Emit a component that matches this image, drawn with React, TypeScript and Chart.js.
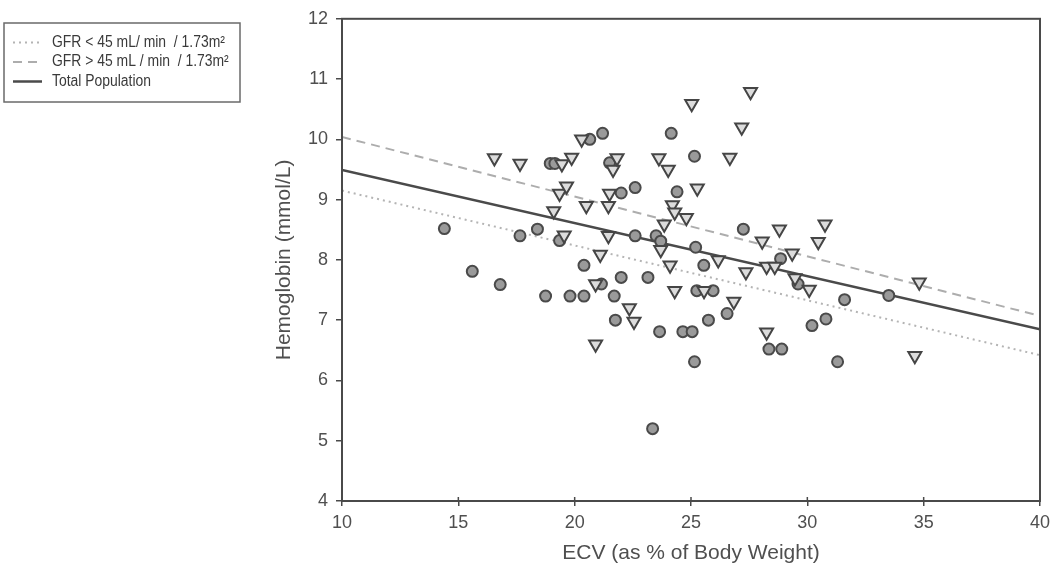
import { useEffect, useRef } from "react";
import { Chart, registerables } from "chart.js";

Chart.register(...registerables);

// Axis ranges and tick values
const xTickValues = [10, 15, 20, 25, 30, 35, 40];
const yTickValues = [4, 5, 6, 7, 8, 9, 10, 11, 12];

// Patients with GFR < 45 mL/min/1.73m² (filled circles)
const gfrLowX = [14.4, 15.6, 16.8, 17.65, 18.4, 18.75, 18.95, 19.15, 19.35, 19.8, 20.4, 20.4, 20.65, 21.2, 21.15, 21.5, 21.7, 21.75, 22.0, 22.0, 22.6, 22.6, 23.15, 23.35, 23.5, 23.7, 23.65, 24.15, 24.4, 24.65, 25.05, 25.15, 25.15, 25.2, 25.25, 25.55, 25.75, 25.95, 26.55, 27.25, 28.35, 28.85, 28.9, 29.6, 30.2, 30.8, 31.3, 31.6, 33.5];
const gfrLowY = [8.52, 7.81, 7.59, 8.4, 8.51, 7.4, 9.6, 9.6, 8.32, 7.4, 7.4, 7.91, 10.0, 10.1, 7.6, 9.61, 7.4, 7.0, 7.71, 9.11, 9.2, 8.4, 7.71, 5.2, 8.4, 8.31, 6.81, 10.1, 9.13, 6.81, 6.81, 6.31, 9.72, 8.21, 7.49, 7.91, 7.0, 7.49, 7.11, 8.51, 6.52, 8.02, 6.52, 7.6, 6.91, 7.02, 6.31, 7.34, 7.41];

// Patients with GFR > 45 mL/min/1.73m² (inverted triangles)
const gfrHighX = [16.55, 17.65, 19.1, 19.35, 19.45, 19.55, 19.65, 19.87, 20.3, 20.5, 20.9, 20.9, 21.1, 21.45, 21.45, 21.5, 21.65, 21.82, 22.35, 22.55, 23.62, 23.7, 23.85, 24.02, 24.1, 24.2, 24.3, 24.3, 24.8, 25.03, 25.27, 25.56, 26.17, 26.67, 26.84, 27.18, 27.36, 27.56, 28.06, 28.25, 28.25, 28.6, 28.8, 29.35, 29.47, 30.08, 30.47, 30.76, 34.62, 34.81];
const gfrHighY = [9.69, 9.6, 8.81, 9.1, 9.59, 8.41, 9.22, 9.7, 10.0, 8.9, 7.6, 6.6, 8.09, 8.9, 8.4, 9.1, 9.5, 9.69, 7.2, 6.98, 9.69, 8.17, 8.59, 9.5, 7.91, 8.91, 8.79, 7.49, 8.7, 10.59, 9.19, 7.49, 8.0, 9.7, 7.31, 10.2, 7.8, 10.79, 8.31, 7.89, 6.8, 7.89, 8.51, 8.11, 7.7, 7.51, 8.3, 8.59, 6.41, 7.63];

// Regression line end points
const fitX = [10, 40];
const fitGfrLow = [9.15, 6.42];
const fitGfrHigh = [10.04, 7.07];
const fitTotal = [9.49, 6.85];

const legendLabels = [
  "GFR < 45 mL/ min  / 1.73m²",
  "GFR > 45 mL / min  / 1.73m²",
  "Total Population",
];

const FONT = "'Liberation Sans', Arial, Helvetica, sans-serif";
const AXIS_COLOR = "#4a4a4a";
const TEXT_COLOR = "#4f4f4f";

const zip = (xs: number[], ys: number[]) => xs.map((x, i) => ({ x, y: ys[i] }));

// Draws the frame around the plot area and the inner half of the x tick marks
const framePlugin = {
  id: "frame",
  afterDatasetsDraw(chart: any) {
    const { ctx, chartArea, scales } = chart;
    ctx.save();
    ctx.strokeStyle = AXIS_COLOR;
    ctx.lineWidth = 2;
    ctx.strokeRect(chartArea.left, chartArea.top, chartArea.right - chartArea.left, chartArea.bottom - chartArea.top);
    ctx.lineWidth = 1.5;
    for (const v of xTickValues) {
      const px = scales.x.getPixelForValue(v);
      ctx.beginPath();
      ctx.moveTo(px, chartArea.bottom);
      ctx.lineTo(px, chartArea.bottom - 4);
      ctx.stroke();
    }
    ctx.restore();
  },
};

// Boxed legend for the regression lines, in the top-left corner
const lineLegendPlugin = {
  id: "lineLegend",
  afterDraw(chart: any) {
    const { ctx } = chart;
    const lines = chart.data.datasets.filter((d: any) => d.showLine);
    ctx.save();
    ctx.fillStyle = "#ffffff";
    ctx.fillRect(4, 23, 236, 79);
    ctx.strokeStyle = "#6a6a6a";
    ctx.lineWidth = 1.5;
    ctx.strokeRect(4, 23, 236, 79);
    lines.forEach((d: any, i: number) => {
      const y = 42.5 + i * 19.5;
      ctx.beginPath();
      ctx.setLineDash(d.borderDash || []);
      ctx.strokeStyle = d.borderColor;
      ctx.lineWidth = d.borderWidth;
      ctx.moveTo(13, y);
      ctx.lineTo(42, y);
      ctx.stroke();
      ctx.setLineDash([]);
      // condensed label text
      ctx.save();
      ctx.translate(52, y);
      ctx.scale(0.87, 1);
      ctx.fillStyle = "#3a3a3a";
      ctx.textBaseline = "middle";
      ctx.textAlign = "left";
      ctx.font = `16px ${FONT}`;
      ctx.fillText(d.label, 0, 0);
      ctx.restore();
    });
    ctx.restore();
  },
};

export default function App() {
  const canvasRef = useRef<HTMLCanvasElement | null>(null);

  useEffect(() => {
    document.body.style.margin = "0";
    document.body.style.overflow = "hidden";
    const canvas = canvasRef.current;
    if (!canvas) return;

    const chart = new Chart(canvas, {
      type: "scatter",
      data: {
        datasets: [
          {
            label: "GFR > 45 points",
            data: zip(gfrHighX, gfrHighY),
            pointStyle: "triangle",
            rotation: 180,
            pointRadius: 7.5,
            pointBackgroundColor: "#dcdcdc",
            pointBorderColor: "#454545",
            pointBorderWidth: 2,
            showLine: false,
          },
          {
            label: "GFR < 45 points",
            data: zip(gfrLowX, gfrLowY),
            pointStyle: "circle",
            pointRadius: 5.5,
            pointBackgroundColor: "#9a9a9a",
            pointBorderColor: "#4a4a4a",
            pointBorderWidth: 2,
            showLine: false,
          },
          {
            label: legendLabels[0],
            data: zip(fitX, fitGfrLow),
            showLine: true,
            borderColor: "#b4b4b4",
            borderWidth: 2,
            borderDash: [2, 4],
            pointRadius: 0,
          },
          {
            label: legendLabels[1],
            data: zip(fitX, fitGfrHigh),
            showLine: true,
            borderColor: "#adadad",
            borderWidth: 2,
            borderDash: [9, 6],
            pointRadius: 0,
          },
          {
            label: legendLabels[2],
            data: zip(fitX, fitTotal),
            showLine: true,
            borderColor: "#4a4a4a",
            borderWidth: 2.5,
            pointRadius: 0,
          },
        ],
      },
      options: {
        responsive: false,
        animation: false,
        events: [],
        layout: { padding: { left: 250, right: 13, top: 16, bottom: 0 } },
        plugins: {
          legend: { display: false },
          tooltip: { enabled: false },
        },
        scales: {
          x: {
            type: "linear",
            min: 10,
            max: 40,
            afterBuildTicks: (scale: any) => {
              scale.ticks = xTickValues.map((value) => ({ value }));
            },
            afterFit: (scale: any) => {
              scale.height = 74;
              scale.paddingRight = 0;
            },
            grid: {
              drawOnChartArea: false,
              drawTicks: true,
              tickLength: 5,
              color: AXIS_COLOR,
              lineWidth: 1.5,
            },
            border: { display: true, color: AXIS_COLOR, width: 2 },
            ticks: {
              color: TEXT_COLOR,
              padding: 6,
              font: { family: FONT, size: 18 },
            },
            title: {
              display: true,
              text: "ECV (as % of Body Weight)",
              color: TEXT_COLOR,
              font: { family: FONT, size: 21 },
              padding: { top: 0, bottom: 9 },
            },
          },
          y: {
            type: "linear",
            min: 4,
            max: 12,
            afterBuildTicks: (scale: any) => {
              scale.ticks = yTickValues.map((value) => ({ value }));
            },
            afterFit: (scale: any) => {
              scale.width = 92;
            },
            grid: {
              drawOnChartArea: false,
              drawTicks: true,
              tickLength: 6,
              color: AXIS_COLOR,
              lineWidth: 1.5,
            },
            border: { display: true, color: AXIS_COLOR, width: 2 },
            ticks: {
              color: TEXT_COLOR,
              padding: 8,
              font: { family: FONT, size: 18 },
            },
            title: {
              display: true,
              text: "Hemoglobin (mmol/L)",
              color: TEXT_COLOR,
              font: { family: FONT, size: 21 },
              padding: { top: 22, bottom: 0 },
            },
          },
        },
      },
      plugins: [framePlugin, lineLegendPlugin],
    });

    return () => chart.destroy();
  }, []);

  return (
    <div style={{ width: 1053, height: 575 }}>
      <canvas ref={canvasRef} width={1053} height={575} style={{ display: "block" }} />
    </div>
  );
}
